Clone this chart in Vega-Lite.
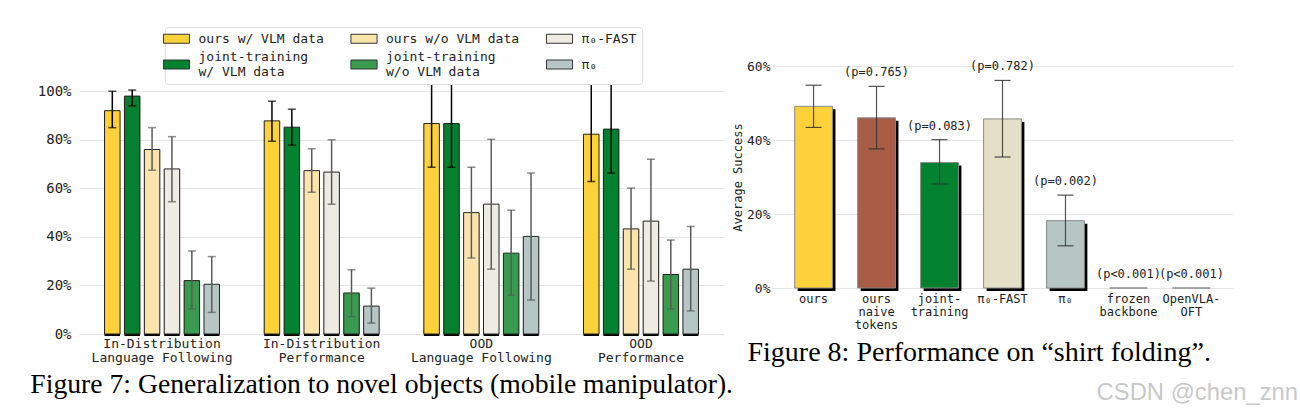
{
  "$schema": "https://vega.github.io/schema/vega-lite/v6.json",
  "padding": {"left": 30, "top": 26, "right": 0, "bottom": 0},
  "spacing": -3,
  "resolve": {"scale": {"color": "independent"}, "legend": {"color": "independent"}},
  "title": {
    "text": "CSDN @chen_znn",
    "orient": "bottom",
    "anchor": "end",
    "font": "Liberation Sans",
    "fontSize": 23.8,
    "fontWeight": "normal",
    "color": "#c8c8c8",
    "offset": -17,
    "dx": 65
  },
  "datasets": {
    "fig7": [
      {"task": "In-Distribution|Language Following", "series": "ours w/ VLM data", "value": 92, "lo": 85, "hi": 100},
      {"task": "In-Distribution|Language Following", "series": "joint-training|w/ VLM data", "value": 98, "lo": 94, "hi": 100.5},
      {"task": "In-Distribution|Language Following", "series": "ours w/o VLM data", "value": 76, "lo": 67.5, "hi": 85},
      {"task": "In-Distribution|Language Following", "series": "π₀-FAST", "value": 68, "lo": 54.5, "hi": 81.3},
      {"task": "In-Distribution|Language Following", "series": "joint-training|w/o VLM data", "value": 22, "lo": 10.3, "hi": 34.2},
      {"task": "In-Distribution|Language Following", "series": "π₀", "value": 20.5, "lo": 8.9, "hi": 31.9},
      {"task": "In-Distribution|Performance", "series": "ours w/ VLM data", "value": 87.8, "lo": 79.4, "hi": 95.9},
      {"task": "In-Distribution|Performance", "series": "joint-training|w/ VLM data", "value": 85.2, "lo": 77.8, "hi": 92.6},
      {"task": "In-Distribution|Performance", "series": "ours w/o VLM data", "value": 67.3, "lo": 58.4, "hi": 76.3},
      {"task": "In-Distribution|Performance", "series": "π₀-FAST", "value": 66.7, "lo": 53.5, "hi": 80},
      {"task": "In-Distribution|Performance", "series": "joint-training|w/o VLM data", "value": 16.9, "lo": 7.1, "hi": 26.5},
      {"task": "In-Distribution|Performance", "series": "π₀", "value": 11.5, "lo": 4.5, "hi": 18.9},
      {"task": "OOD|Language Following", "series": "ours w/ VLM data", "value": 86.7, "lo": 68.7, "hi": 104.1},
      {"task": "OOD|Language Following", "series": "joint-training|w/ VLM data", "value": 86.7, "lo": 68.7, "hi": 104.1},
      {"task": "OOD|Language Following", "series": "ours w/o VLM data", "value": 50, "lo": 31.3, "hi": 68.7},
      {"task": "OOD|Language Following", "series": "π₀-FAST", "value": 53.5, "lo": 26.7, "hi": 80.2},
      {"task": "OOD|Language Following", "series": "joint-training|w/o VLM data", "value": 33.3, "lo": 16, "hi": 51},
      {"task": "OOD|Language Following", "series": "π₀", "value": 40.2, "lo": 14, "hi": 66.3},
      {"task": "OOD|Performance", "series": "ours w/ VLM data", "value": 82.3, "lo": 62.8, "hi": 104.1},
      {"task": "OOD|Performance", "series": "joint-training|w/ VLM data", "value": 84.4, "lo": 66.3, "hi": 104.1},
      {"task": "OOD|Performance", "series": "ours w/o VLM data", "value": 43.3, "lo": 26.7, "hi": 60.1},
      {"task": "OOD|Performance", "series": "π₀-FAST", "value": 46.5, "lo": 21.8, "hi": 72},
      {"task": "OOD|Performance", "series": "joint-training|w/o VLM data", "value": 24.5, "lo": 10.3, "hi": 38.7},
      {"task": "OOD|Performance", "series": "π₀", "value": 26.7, "lo": 9.5, "hi": 44.3}
    ],
    "fig8": [
      {"method": "ours", "value": 49.1, "lo": 43.4, "hi": 54.8, "p": ""},
      {"method": "ours|naive|tokens", "value": 46.0, "lo": 37.6, "hi": 54.5, "p": "(p=0.765)"},
      {"method": "joint-|training", "value": 33.9, "lo": 28.1, "hi": 40.1, "p": "(p=0.083)"},
      {"method": "π₀-FAST", "value": 45.7, "lo": 35.4, "hi": 56.1, "p": "(p=0.782)"},
      {"method": "π₀", "value": 18.2, "lo": 11.4, "hi": 25.1, "p": "(p=0.002)"},
      {"method": "frozen|backbone", "value": 0, "lo": 0, "hi": 0, "p": "(p<0.001)"},
      {"method": "OpenVLA-|OFT", "value": 0, "lo": 0, "hi": 0, "p": "(p<0.001)"}
    ]
  },
  "hconcat": [
    {
      "width": 645,
      "height": 268,
      "title": {
        "text": "Figure 7: Generalization to novel objects (mobile manipulator).",
        "orient": "bottom",
        "anchor": "start",
        "font": "Liberation Serif",
        "fontSize": 27.7,
        "fontWeight": "normal",
        "color": "black",
        "offset": 6,
        "dx": -7
      },
      "data": {"name": "fig7"},
      "encoding": {
        "x": {
          "field": "task",
          "type": "nominal",
          "sort": ["In-Distribution|Language Following", "In-Distribution|Performance", "OOD|Language Following", "OOD|Performance"],
          "scale": {"paddingInner": 0.28, "paddingOuter": 0.16},
          "axis": {"title": null, "labelAngle": 0, "labelFontSize": 13, "labelPadding": 3, "labelLineHeight": 14.6, "labelExpr": "split(datum.label, '|')", "grid": false}
        },
        "xOffset": {
          "field": "series",
          "type": "nominal",
          "sort": ["ours w/ VLM data", "joint-training|w/ VLM data", "ours w/o VLM data", "π₀-FAST", "joint-training|w/o VLM data", "π₀"],
          "scale": {"paddingInner": 0.22}
        }
      },
      "layer": [
        {
          "mark": {"type": "bar", "color": "black", "xOffset": 2, "yOffset": 2, "y2Offset": 2},
          "encoding": {
            "y": {
              "field": "value",
              "type": "quantitative",
              "scale": {"domain": [0, 110.4], "nice": false},
              "axis": {"title": null, "values": [0, 20, 40, 60, 80, 100], "labelExpr": "datum.value + '%'", "labelFontSize": 14, "labelPadding": 8, "gridColor": "#e4e4e4"}
            }
          }
        },
        {
          "mark": {"type": "bar", "stroke": "#222222", "strokeWidth": 1},
          "encoding": {
            "y": {"field": "value", "type": "quantitative", "title": null},
            "color": {
              "field": "series",
              "type": "nominal",
              "scale": {
                "domain": ["ours w/ VLM data", "ours w/o VLM data", "π₀-FAST", "joint-training|w/ VLM data", "joint-training|w/o VLM data", "π₀"],
                "range": ["#fdd13a", "#fbe4ab", "#eeebe2", "#03812f", "#389b4d", "#b5c6c5"]
              },
              "legend": {
                "orient": "none",
                "direction": "horizontal",
                "legendX": 86,
                "legendY": -39,
                "columns": 3,
                "columnPadding": 24.5,
                "rowPadding": 5,
                "title": null,
                "symbolType": "M-2.9,-1H2.9V1H-2.9Z",
                "symbolSize": 81,
                "symbolStrokeColor": "#333333",
                "symbolStrokeWidth": 1,
                "labelFont": "DejaVu Sans Mono",
                "labelFontSize": 13,
                "labelColor": "#222222",
                "labelOffset": 15.5,
                "labelLimit": 300,
                "labelExpr": "split(datum.label, '|')",
                "strokeColor": "#dddddd",
                "fillColor": "white",
                "padding": 5,
                "cornerRadius": 3,
                "encode": {
                  "labels": {"update": {"dy": {"signal": "indexof(datum.value, '|') >= 0 ? -7.5 : 0"}}}
                }
              }
            }
          }
        },
        {
          "mark": {"type": "rule", "strokeWidth": 1.5},
          "encoding": {
            "y": {"field": "lo", "type": "quantitative", "title": null},
            "y2": {"field": "hi"},
            "color": {"condition": {"test": "indexof(['ours w/ VLM data', 'joint-training|w/ VLM data'], datum.series) >= 0", "value": "black"}, "value": "#5a5a5a"}
          }
        },
        {
          "transform": [{"filter": "datum.hi < 104"}],
          "mark": {"type": "tick", "thickness": 1.5, "size": 8},
          "encoding": {
            "y": {"field": "hi", "type": "quantitative", "title": null},
            "color": {"condition": {"test": "indexof(['ours w/ VLM data', 'joint-training|w/ VLM data'], datum.series) >= 0", "value": "black"}, "value": "#5a5a5a"}
          }
        },
        {
          "mark": {"type": "tick", "thickness": 1.5, "size": 8},
          "encoding": {
            "y": {"field": "lo", "type": "quantitative", "title": null},
            "color": {"condition": {"test": "indexof(['ours w/ VLM data', 'joint-training|w/ VLM data'], datum.series) >= 0", "value": "black"}, "value": "#5a5a5a"}
          }
        }
      ]
    },
    {
      "width": 461,
      "height": 222,
      "title": {
        "text": "Figure 8: Performance on “shirt folding”.",
        "orient": "bottom",
        "anchor": "start",
        "font": "Liberation Serif",
        "fontSize": 28,
        "fontWeight": "normal",
        "color": "black",
        "offset": 9,
        "dx": 16
      },
      "data": {"name": "fig8"},
      "encoding": {
        "x": {
          "field": "method",
          "type": "nominal",
          "sort": null,
          "scale": {"paddingInner": 0.4, "paddingOuter": 0.36},
          "axis": {"title": null, "labelAngle": 0, "labelFontSize": 12, "labelPadding": 5, "labelLineHeight": 13, "labelExpr": "split(datum.label, '|')", "grid": false}
        }
      },
      "layer": [
        {
          "mark": {"type": "bar", "color": "black", "xOffset": 3, "yOffset": 3, "y2Offset": 3},
          "encoding": {
            "y": {
              "field": "value",
              "type": "quantitative",
              "scale": {"domain": [0, 60], "nice": false},
              "axis": {"title": "Average Success", "titleFontSize": 12, "titlePadding": 2, "titleColor": "#222222", "values": [0, 10, 20, 30, 40, 50, 60], "labelExpr": "datum.value + '%'", "labelFontSize": 13, "labelPadding": 2, "gridColor": "#e4e4e4"}
            }
          }
        },
        {
          "mark": {"type": "bar", "stroke": "#8a8a8a", "strokeWidth": 1},
          "encoding": {
            "y": {"field": "value", "type": "quantitative"},
            "color": {
              "field": "method",
              "type": "nominal",
              "scale": {
                "domain": ["ours", "ours|naive|tokens", "joint-|training", "π₀-FAST", "π₀", "frozen|backbone", "OpenVLA-|OFT"],
                "range": ["#fdd13a", "#a95c46", "#02812f", "#e5dfc8", "#b5c6c5", "#cccccc", "#cccccc"]
              },
              "legend": null
            }
          }
        },
        {
          "transform": [{"filter": "datum.hi > datum.lo"}],
          "mark": {"type": "rule", "strokeWidth": 1.2, "color": "#333333", "opacity": 0.85},
          "encoding": {
            "y": {"field": "lo", "type": "quantitative"},
            "y2": {"field": "hi"}
          }
        },
        {
          "transform": [{"filter": "datum.hi > datum.lo"}],
          "mark": {"type": "tick", "thickness": 1.2, "size": 16, "color": "#333333", "opacity": 0.85},
          "encoding": {"y": {"field": "hi", "type": "quantitative"}}
        },
        {
          "transform": [{"filter": "datum.hi > datum.lo"}],
          "mark": {"type": "tick", "thickness": 1.2, "size": 16, "color": "#333333", "opacity": 0.85},
          "encoding": {"y": {"field": "lo", "type": "quantitative"}}
        },
        {
          "transform": [{"filter": "datum.p != ''"}],
          "mark": {"type": "text", "font": "DejaVu Sans Mono", "fontSize": 12, "color": "#222222", "baseline": "middle", "dy": -14},
          "encoding": {
            "y": {"field": "hi", "type": "quantitative"},
            "text": {"field": "p"}
          }
        }
      ]
    }
  ],
  "config": {
    "font": "DejaVu Sans Mono",
    "view": {"stroke": null},
    "axis": {
      "domain": false,
      "ticks": false,
      "labelFont": "DejaVu Sans Mono",
      "labelColor": "#222222",
      "titleFont": "DejaVu Sans Mono",
      "titleFontWeight": "normal",
      "gridColor": "#e4e4e4"
    }
  }
}
